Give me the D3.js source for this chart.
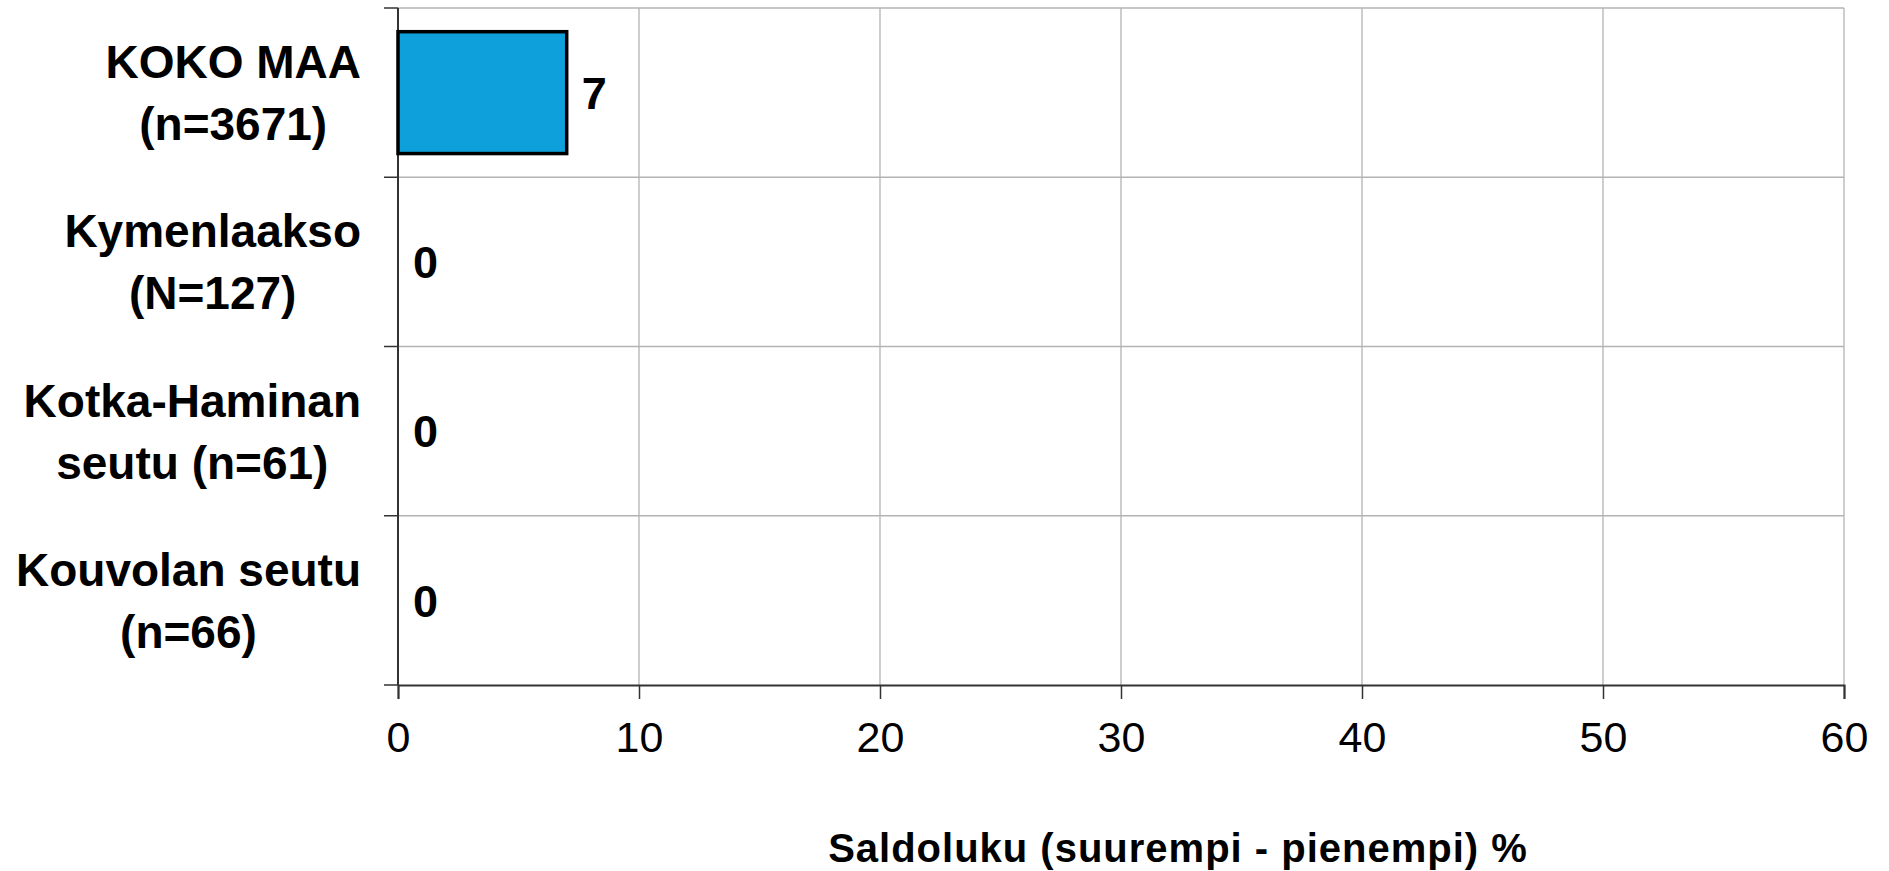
<!DOCTYPE html>
<html>
<head>
<meta charset="utf-8">
<script src="https://cdn.jsdelivr.net/npm/d3@7"></script>
<style>
  body { margin: 0; background: #fff; }
  text { font-family: "Liberation Sans", Arial, sans-serif; fill: #000; }
</style>
</head>
<body>
<svg id="chart" width="1889" height="871"></svg>
<script>
// data
const categories = ['KOKO MAA|(n=3671)', 'Kymenlaakso|(N=127)', 'Kotka-Haminan|seutu (n=61)', 'Kouvolan seutu|(n=66)'];
const values = [7, 0, 0, 0];
const xTicks = [0, 10, 20, 30, 40, 50, 60];
const xTitle = 'Saldoluku (suurempi - pienempi) %';

const plotL = 398, plotR = 1844, plotT = 8, plotB = 685;

const svg = d3.select('#chart');

const x = d3.scaleLinear().domain([0, 60]).range([plotL, plotR]);
const y = d3.scaleBand().domain(categories).range([plotT, plotB])
            .paddingInner(0.28).paddingOuter(0.14);

const step = y.step();
const bounds = d3.range(categories.length + 1).map(i => plotT + i * step);

// grid
svg.append('g').selectAll('line')
   .data(xTicks.slice(1))
   .enter().append('line')
   .attr('x1', d => x(d)).attr('x2', d => x(d))
   .attr('y1', plotT).attr('y2', plotB)
   .attr('stroke', '#b3b3b3').attr('stroke-width', 1.3)

svg.append('g').selectAll('line')
   .data(bounds.slice(0, -1))
   .enter().append('line')
   .attr('x1', plotL).attr('x2', plotR)
   .attr('y1', d => d).attr('y2', d => d)
   .attr('stroke', '#b3b3b3').attr('stroke-width', 1.3)

// axes
const xAxis = svg.append('g')
   .attr('transform', `translate(0,${plotB})`)
   .call(d3.axisBottom(x).tickValues(xTicks).tickSize(14).tickPadding(22))
xAxis.select('.domain').attr('stroke', '#333').attr('stroke-width', 2)
xAxis.selectAll('.tick line').attr('stroke', '#333').attr('stroke-width', 1.5)
xAxis.selectAll('.tick text')
   .style('font-family', '"Liberation Sans", Arial, sans-serif')
   .style('font-size', '43px').attr('fill', '#000')

svg.append('line')
   .attr('x1', plotL).attr('x2', plotL).attr('y1', plotT).attr('y2', plotB)
   .attr('stroke', '#333').attr('stroke-width', 2)

svg.append('g').selectAll('line')
   .data(bounds)
   .enter().append('line')
   .attr('x1', plotL - 14).attr('x2', plotL)
   .attr('y1', d => d).attr('y2', d => d)
   .attr('stroke', '#333').attr('stroke-width', 1.5)

// bars
svg.append('g').selectAll('rect')
   .data(values.map((v, i) => ({v, c: categories[i]})).filter(d => d.v > 0))
   .enter().append('rect')
   .attr('x', x(0))
   .attr('y', d => y(d.c))
   .attr('width', d => x(d.v) - x(0))
   .attr('height', y.bandwidth())
   .attr('fill', '#0ea0da')
   .attr('stroke', '#000')
   .attr('stroke-width', 3.5)

// value labels
svg.append('g').selectAll('text')
   .data(values.map((v, i) => ({v, c: categories[i]})))
   .enter().append('text')
   .attr('x', d => x(d.v) + 15)
   .attr('y', d => y(d.c) + y.bandwidth() / 2)
   .attr('dy', '0.36em')
   .style('font-size', '45px')
   .style('font-weight', 'bold')
   .text(d => d.v)

// category labels
const lineH = 62;
categories.forEach(c => {
  const lines = c.split('|');
  const g = svg.append('g');
  const cy = y(c) + y.bandwidth() / 2;
  const t = g.selectAll('text').data(lines).enter().append('text')
     .attr('y', (d, i) => cy + (i - (lines.length - 1) / 2) * lineH)
     .attr('dy', '0.36em')
     .style('font-size', '46px')
     .style('font-weight', 'bold')
     .attr('text-anchor', 'middle')
     .text(d => d);
  let w = 0;
  t.each(function() { w = Math.max(w, this.getComputedTextLength()); });
  t.attr('x', 361 - w / 2);
});

// axis title
svg.append('text')
   .attr('x', 1178).attr('y', 862)
   .attr('text-anchor', 'middle')
   .style('font-size', '40px')
   .style('font-weight', 'bold')
   .style('letter-spacing', '1px')
   .text(xTitle)
</script>
</body>
</html>
